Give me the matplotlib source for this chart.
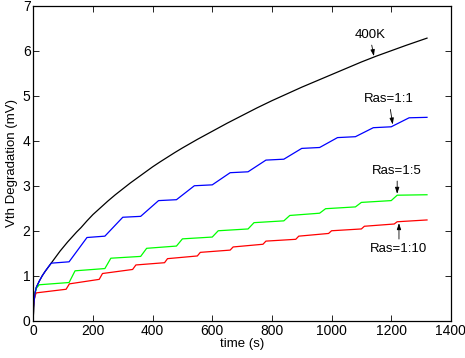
import numpy as np
import matplotlib
matplotlib.use("Agg")
import matplotlib.pyplot as plt

plt.rcParams['font.family'] = ['Liberation Sans', 'DejaVu Sans']

# ---------------- data ----------------
# 400K continuous stress
t_dc = [0, 1, 3, 6, 10, 20, 30, 40, 50, 60, 70, 80, 90, 100, 115, 130, 145, 160,
        180, 200, 225, 250, 275, 300, 325, 350, 375, 400, 425, 450, 475, 500,
        550, 600, 650, 700, 750, 800, 850, 900, 950, 1000, 1050, 1100, 1150,
        1200, 1250, 1320]
v_dc = [0.05, 0.30, 0.46, 0.62, 0.74, 0.88, 1.00, 1.10, 1.19, 1.28, 1.37, 1.46,
        1.55, 1.63, 1.75, 1.86, 1.97, 2.07, 2.22, 2.36, 2.51, 2.66, 2.80, 2.93,
        3.06, 3.18, 3.30, 3.42, 3.53, 3.635, 3.74, 3.84, 4.03, 4.21, 4.39, 4.56,
        4.73, 4.89, 5.04, 5.19, 5.33, 5.47, 5.61, 5.75, 5.88, 6.00, 6.12, 6.28]

# Ras = 1:1
t_11 = [0, 1, 3, 6, 10, 20, 30, 40, 50, 60, 120, 180, 240, 300, 360, 420, 480,
        540, 600, 660, 720, 780, 840, 900, 960, 1020, 1080, 1140, 1200, 1260,
        1320]
v_11 = [0.05, 0.30, 0.46, 0.62, 0.74, 0.88, 1.00, 1.10, 1.19, 1.28, 1.31, 1.85,
        1.88, 2.30, 2.32, 2.67, 2.69, 3.00, 3.02, 3.29, 3.31, 3.57, 3.59, 3.83,
        3.85, 4.07, 4.09, 4.29, 4.31, 4.51, 4.52]

# Ras = 1:5
t_15 = [0, 1, 3, 6, 10, 20, 120, 140, 240, 260, 360, 380, 480, 500, 600, 620,
        720, 740, 840, 860, 960, 980, 1080, 1100, 1200, 1220, 1320]
v_15 = [0.05, 0.30, 0.46, 0.62, 0.72, 0.80, 0.85, 1.11, 1.16, 1.39, 1.43, 1.61,
        1.66, 1.82, 1.86, 2.00, 2.04, 2.18, 2.22, 2.34, 2.39, 2.49, 2.53, 2.63,
        2.67, 2.79, 2.80]

# Ras = 1:10
t_110 = [0, 1, 3, 6, 10, 110, 121, 221, 232, 333, 344, 440, 450, 550, 560, 660,
         670, 770, 780, 880, 890, 990, 1000, 1100, 1110, 1210, 1220, 1320]
v_110 = [0.05, 0.30, 0.46, 0.56, 0.62, 0.70, 0.82, 0.92, 1.05, 1.14, 1.24, 1.29,
         1.38, 1.44, 1.52, 1.57, 1.64, 1.70, 1.77, 1.81, 1.88, 1.94, 2.00, 2.04,
         2.10, 2.15, 2.20, 2.24]

xticks = [0, 200, 400, 600, 800, 1000, 1200, 1400]
yticks = [0, 1, 2, 3, 4, 5, 6, 7]

# ---------------- plot ----------------
fig = plt.figure(figsize=(4.65, 3.58), dpi=100)
ax = fig.add_axes([0.0716, 0.104, 0.898, 0.880])

lw = 0.9
ax.plot(t_dc, v_dc, color='black', lw=lw)
ax.plot(t_15, v_15, color=(0, 1, 0), lw=lw)
ax.plot(t_110, v_110, color=(1, 0, 0), lw=lw)
ax.plot(t_11, v_11, color=(0, 0, 1), lw=lw)

ax.set_xlim(0, 1400)
ax.set_ylim(0, 7)
ax.set_xticks(xticks)
ax.set_yticks(yticks)
ax.tick_params(direction='in', top=True, right=True, length=4, width=0.6,
               labelsize=10, pad=2)
for s in ax.spines.values():
    s.set_linewidth(0.9)

ax.set_xlabel('time (s)', fontsize=9.5, labelpad=0)
ax.set_ylabel('Vth Degradation (mV)', fontsize=9.5, labelpad=3)

arrow = dict(arrowstyle='-|>,head_length=0.4,head_width=0.13', color='black',
             lw=0.6, shrinkA=1, shrinkB=0)
ax.annotate('400K', xy=(1142, 5.88), xytext=(1128, 6.35), ha='center',
            va='center', fontsize=9.5, arrowprops=arrow)
ax.annotate('Ras=1:1', xy=(1205, 4.36), xytext=(1192, 4.92), ha='center',
            va='center', fontsize=9.5, arrowprops=arrow)
ax.annotate('Ras=1:5', xy=(1220, 2.82), xytext=(1220, 3.33), ha='center',
            va='center', fontsize=9.5, arrowprops=arrow)
ax.annotate('Ras=1:10', xy=(1226, 2.17), xytext=(1226, 1.59), ha='center',
            va='center', fontsize=9.5, arrowprops=arrow)

fig.savefig('out.png', dpi=100)
